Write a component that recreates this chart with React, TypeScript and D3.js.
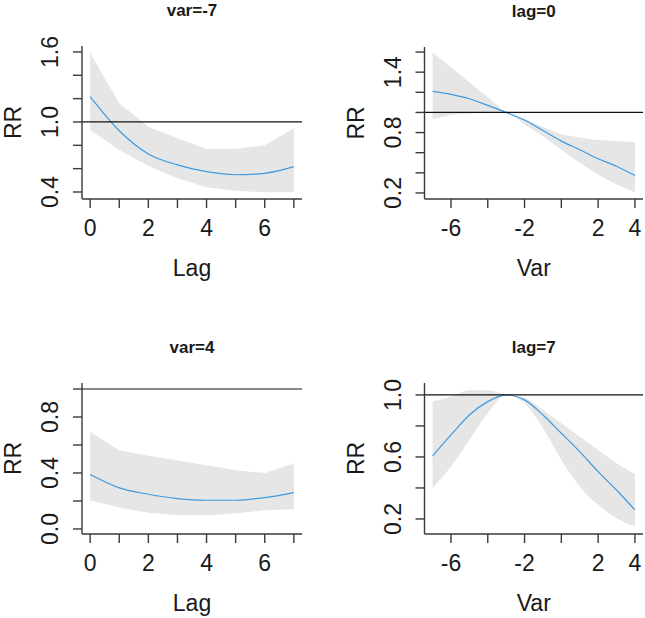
import React from "react";
import * as d3 from "d3";

// ---- data ----
const lags = [0, 1, 2, 3, 4, 5, 6, 7];
const vars = [-7, -6, -5, -4, -3, -2, -1, 0, 1, 2, 3, 4];

// var = -7
const p1Fit = [1.217, 0.925, 0.726, 0.632, 0.574, 0.548, 0.56, 0.617];
const p1High = [1.594, 1.16, 0.96, 0.86, 0.77, 0.77, 0.8, 0.946];
const p1Low = [0.931, 0.76, 0.623, 0.518, 0.44, 0.41, 0.397, 0.397];

// lag = 0
const p2Fit = [1.21, 1.18, 1.136, 1.07, 1.0, 0.924, 0.82, 0.715, 0.63, 0.54, 0.466, 0.373];
const p2High = [1.594, 1.45, 1.3, 1.15, 1.0, 0.935, 0.855, 0.785, 0.75, 0.725, 0.715, 0.705];
const p2Low = [0.93, 0.975, 0.99, 0.995, 1.0, 0.88, 0.764, 0.63, 0.5, 0.383, 0.284, 0.207];

// var = 4
const p3Fit = [0.389, 0.294, 0.248, 0.217, 0.205, 0.205, 0.224, 0.26];
const p3High = [0.695, 0.563, 0.523, 0.49, 0.456, 0.42, 0.4, 0.468];
const p3Low = [0.205, 0.153, 0.115, 0.098, 0.098, 0.11, 0.134, 0.141];

// lag = 7
const p4Fit = [0.606, 0.742, 0.871, 0.957, 1.0, 0.968, 0.871, 0.753, 0.634, 0.505, 0.387, 0.258];
const p4High = [0.957, 0.99, 1.03, 1.03, 1.0, 0.98, 0.905, 0.817, 0.731, 0.645, 0.559, 0.49];
const p4Low = [0.398, 0.538, 0.71, 0.882, 1.0, 0.946, 0.785, 0.58, 0.409, 0.29, 0.204, 0.151];

const titles = ["var=-7", "lag=0", "var=4", "lag=7"];
const xLabels = ["Lag", "Var", "Lag", "Var"];
const yLabel = "RR";

const lagTicks = [0, 1, 2, 3, 4, 5, 6, 7];
const lagTickLabels = [0, 2, 4, 6];
const varTicks = [-6, -4, -2, 0, 2, 4];
const varTickLabels = [-6, -2, 2, 4];

const p1YTicks = [0.4, 0.6, 0.8, 1.0, 1.2, 1.4, 1.6];
const p1YLabels = [0.4, 1.0, 1.6];
const p2YTicks = [0.2, 0.4, 0.6, 0.8, 1.0, 1.2, 1.4, 1.6];
const p2YLabels = [0.2, 0.8, 1.4];
const p3YTicks = [0.0, 0.2, 0.4, 0.6, 0.8, 1.0];
const p3YLabels = [0.0, 0.4, 0.8];
const p4YTicks = [0.2, 0.4, 0.6, 0.8, 1.0];
const p4YLabels = [0.2, 0.6, 1.0];

// y limits of each plotting region (value at bottom, value at top)
const p1YLim = [0.34, 1.651];
const p2YLim = [0.14, 1.65];
const p3YLim = [-0.036, 1.043];
const p4YLim = [0.103, 1.077];

// ---- layout ----
const W = 645;
const H = 618;
const FONT = "'Liberation Sans', Arial, Helvetica, sans-serif";
const BAND = "#e6e6e6";
const LINE = "#3d9ae0";
const AXIS = "#3a3a3a";
const TXT = "#1a1a1a";

type Panel = {
  x: number[];
  fit: number[];
  high: number[];
  low: number[];
  xTicks: number[];
  xTickLabels: number[];
  yTicks: number[];
  yTickLabels: number[];
  yLim: number[];
  title: string;
  xLabel: string;
  box: { l: number; r: number; t: number; b: number };
  smoothBand: boolean;
};

const panels: Panel[] = [
  { x: lags, fit: p1Fit, high: p1High, low: p1Low, xTicks: lagTicks, xTickLabels: lagTickLabels, yTicks: p1YTicks, yTickLabels: p1YLabels, yLim: p1YLim, title: titles[0], xLabel: xLabels[0], box: { l: 82, r: 302, t: 46, b: 199 }, smoothBand: false },
  { x: vars, fit: p2Fit, high: p2High, low: p2Low, xTicks: varTicks, xTickLabels: varTickLabels, yTicks: p2YTicks, yTickLabels: p2YLabels, yLim: p2YLim, title: titles[1], xLabel: xLabels[1], box: { l: 424.5, r: 643, t: 47, b: 199 }, smoothBand: true },
  { x: lags, fit: p3Fit, high: p3High, low: p3Low, xTicks: lagTicks, xTickLabels: lagTickLabels, yTicks: p3YTicks, yTickLabels: p3YLabels, yLim: p3YLim, title: titles[2], xLabel: xLabels[2], box: { l: 82, r: 302, t: 383, b: 534 }, smoothBand: false },
  { x: vars, fit: p4Fit, high: p4High, low: p4Low, xTicks: varTicks, xTickLabels: varTickLabels, yTicks: p4YTicks, yTickLabels: p4YLabels, yLim: p4YLim, title: titles[3], xLabel: xLabels[3], box: { l: 424.5, r: 643, t: 383, b: 534 }, smoothBand: true },
];

const fmt = (v: number) => (Math.abs(v) < 1e-9 ? "0.0" : v.toFixed(1));

function PanelView({ p }: { p: Panel }) {
  const { l, r, t, b } = p.box;
  const ext = d3.extent(p.x) as [number, number];
  const pad = (ext[1] - ext[0]) * 0.04;
  const xs = d3.scaleLinear().domain([ext[0] - pad, ext[1] + pad]).range([l, r]);
  const ys = d3.scaleLinear().domain(p.yLim).range([b, t]);
  const idx = p.x.map((_, i) => i);
  const area = d3
    .area<number>()
    .x((i) => xs(p.x[i]))
    .y0((i) => ys(p.low[i]))
    .y1((i) => ys(p.high[i]))
    .curve(p.smoothBand ? d3.curveMonotoneX : d3.curveLinear);
  const line = d3
    .line<number>()
    .x((i) => xs(p.x[i]))
    .y((i) => ys(p.fit[i]))
    .curve(d3.curveMonotoneX);
  const tick = 9;
  const cx = (l + r) / 2;
  const cy = (t + b) / 2;
  return (
    <g>
      <path d={area(idx) || ""} fill={BAND} stroke="none" />
      <path d={line(idx) || ""} fill="none" stroke={LINE} strokeWidth={1.2} />
      <line x1={l} x2={r} y1={ys(1)} y2={ys(1)} stroke="#111" strokeWidth={1.2} />
      {/* L box */}
      <line x1={l} x2={l} y1={t} y2={b} stroke={AXIS} strokeWidth={1.4} />
      <line x1={l} x2={r} y1={b} y2={b} stroke={AXIS} strokeWidth={1.4} />
      {p.xTicks.map((v) => (
        <line key={"xt" + v} x1={xs(v)} x2={xs(v)} y1={b} y2={b + tick} stroke={AXIS} strokeWidth={1.4} />
      ))}
      {p.xTickLabels.map((v) => (
        <text key={"xl" + v} x={xs(v)} y={b + 37} textAnchor="middle" fontSize={23} fill={TXT} fontFamily={FONT}>
          {String(v)}
        </text>
      ))}
      {p.yTicks.map((v) => (
        <line key={"yt" + v} x1={l - tick} x2={l} y1={ys(v)} y2={ys(v)} stroke={AXIS} strokeWidth={1.4} />
      ))}
      {p.yTickLabels.map((v) => (
        <text
          key={"yl" + v}
          transform={`translate(${l - 24},${ys(v)}) rotate(-90)`}
          textAnchor="middle"
          fontSize={23}
          fill={TXT}
          fontFamily={FONT}
        >
          {fmt(v)}
        </text>
      ))}
      <text x={cx} y={b + 77} textAnchor="middle" fontSize={23} fill={TXT} fontFamily={FONT}>
        {p.xLabel}
      </text>
      <text transform={`translate(${l - 61},${cy}) rotate(-90)`} textAnchor="middle" fontSize={23} fill={TXT} fontFamily={FONT}>
        {yLabel}
      </text>
      <text x={cx} y={t - 30} textAnchor="middle" fontSize={17} fontWeight="bold" fill={TXT} fontFamily={FONT}>
        {p.title}
      </text>
    </g>
  );
}

export default function App() {
  return (
    <svg width={W} height={H} style={{ position: "absolute", left: 0, top: 0, background: "#fff" }}>
      <rect width={W} height={H} fill="#fff" />
      {panels.map((p, i) => (
        <PanelView key={i} p={p} />
      ))}
    </svg>
  );
}
